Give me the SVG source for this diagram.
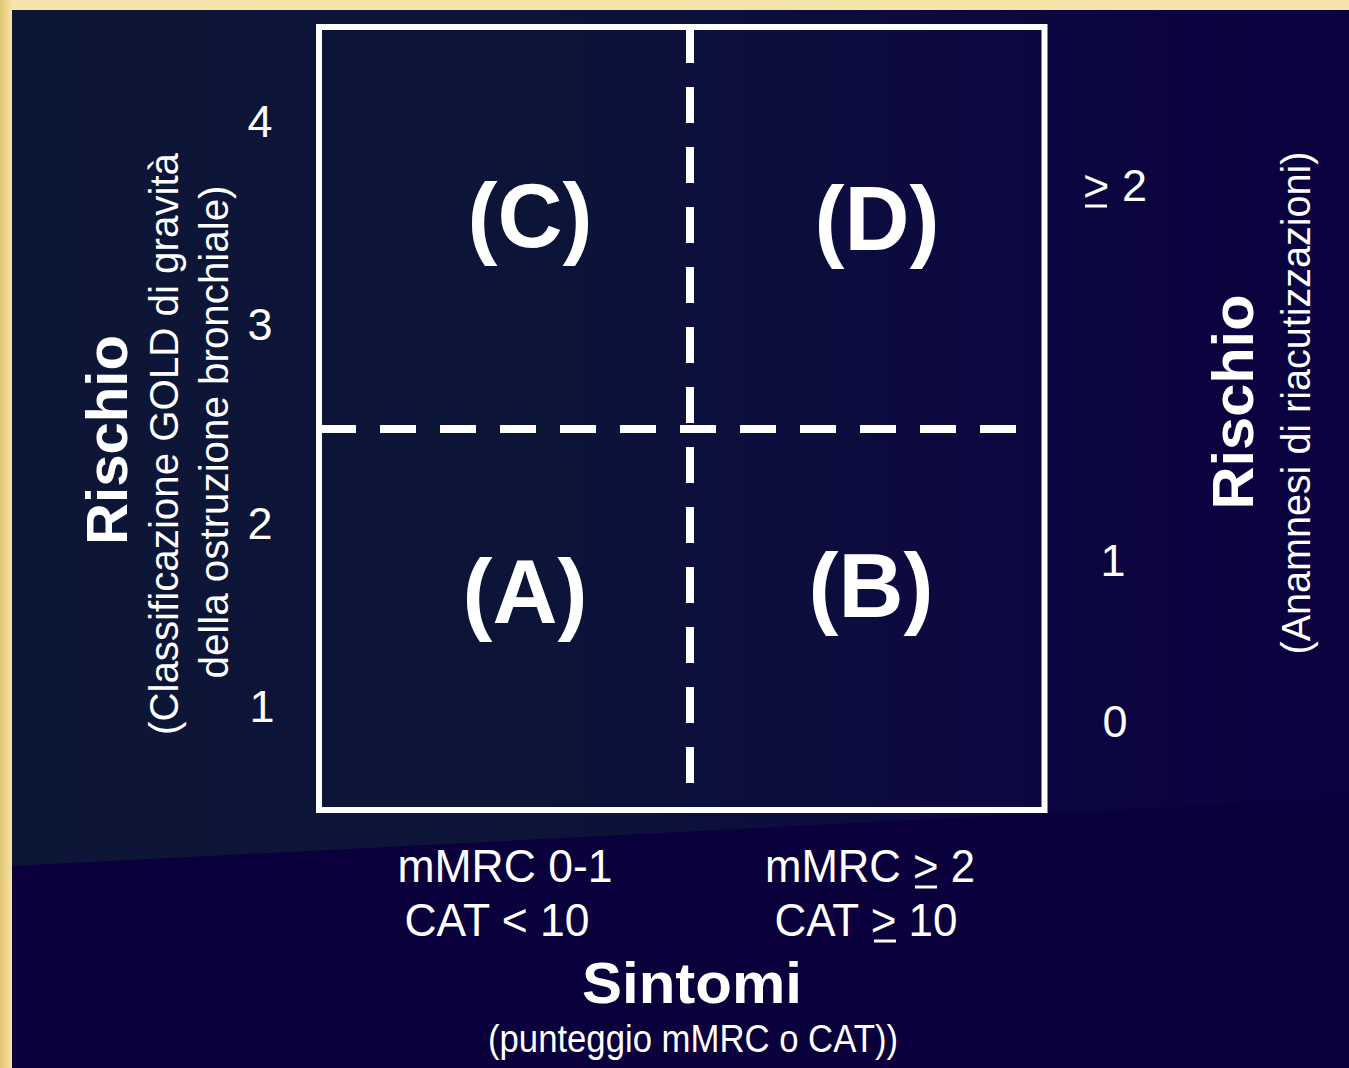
<svg xmlns="http://www.w3.org/2000/svg" width="1349" height="1068" viewBox="0 0 1349 1068">
  <defs>
    <linearGradient id="frame" x1="0" y1="0" x2="0" y2="1">
      <stop offset="0" stop-color="#f7e4ab"/>
      <stop offset="1" stop-color="#f2dc9c"/>
    </linearGradient>
    <linearGradient id="leftEdge" x1="0" y1="0" x2="1" y2="0">
      <stop offset="0" stop-color="#e3c674"/>
      <stop offset="1" stop-color="#f6e2a6"/>
    </linearGradient>
    <linearGradient id="panel" gradientUnits="userSpaceOnUse" x1="12" y1="0" x2="1349" y2="0">
      <stop offset="0" stop-color="#0c1636"/>
      <stop offset="0.37" stop-color="#0c1538"/>
      <stop offset="0.55" stop-color="#0c0f3d"/>
      <stop offset="0.78" stop-color="#0c0640"/>
      <stop offset="1" stop-color="#0a013e"/>
    </linearGradient>
    <style>
      .t { font-family: "Liberation Sans", Arial, sans-serif; fill: #ffffff; }
      .num { font-size: 45px; text-anchor: middle; }
      .quad { font-size: 90px; font-weight: bold; text-anchor: middle; }
      .axis { font-size: 58px; font-weight: bold; text-anchor: middle; }
      .sub { font-size: 40px; text-anchor: middle; }
      .score { font-size: 46px; text-anchor: middle; }
      .ul { stroke: #ffffff; stroke-width: 3; }
      .divider { stroke: #ffffff; stroke-width: 8; stroke-dasharray: 36 24; fill: none; }
    </style>
  </defs>

  <!-- slide frame and dark panel -->
  <rect x="0" y="0" width="1349" height="1068" fill="url(#frame)"/>
  <rect x="0" y="0" width="12" height="1068" fill="url(#leftEdge)"/>
  <rect x="12" y="10" width="1337" height="1058" fill="url(#panel)"/>
  <polygon points="12,866 1349,798 1349,1068 12,1068" fill="#09003c"/>

  <!-- outer frame of the risk matrix -->
  <g id="matrix">
    <rect x="319" y="27" width="725.5" height="783" fill="none" stroke="#ffffff" stroke-width="6"/>
  </g>

  <!-- dashed quadrant dividers -->
  <g id="connectors">
    <line class="divider" x1="690" y1="27" x2="690" y2="787"/>
    <line class="divider" x1="320" y1="429" x2="1018" y2="429"/>
  </g>

  <!-- quadrant labels -->
  <g id="quadrant-C"><text class="t quad" x="530" y="247">(C)</text></g>
  <g id="quadrant-D"><text class="t quad" x="877" y="250">(D)</text></g>
  <g id="quadrant-A"><text class="t quad" x="525" y="623">(A)</text></g>
  <g id="quadrant-B"><text class="t quad" x="871" y="617">(B)</text></g>

  <!-- left scale: GOLD grade -->
  <g id="scale-gold">
    <text class="t num" x="260" y="137">4</text>
    <text class="t num" x="260" y="340">3</text>
    <text class="t num" x="260" y="539">2</text>
    <text class="t num" x="262" y="722">1</text>
  </g>

  <!-- right scale: exacerbations (underlined ">" reads as "at least") -->
  <g id="scale-exacerbations">
    <text class="t num" x="1115" y="201">&gt; 2</text>
    <line class="ul" x1="1085" y1="206" x2="1107" y2="206"/>
    <text class="t num" x="1113" y="576">1</text>
    <text class="t num" x="1115" y="737">0</text>
  </g>

  <!-- left axis title -->
  <g id="axis-left">
    <text class="t axis" transform="translate(127,440) rotate(-90)" textLength="210" lengthAdjust="spacingAndGlyphs">Rischio</text>
    <text class="t sub" transform="translate(178,444) rotate(-90)" textLength="582" lengthAdjust="spacingAndGlyphs">(Classificazione GOLD di gravità</text>
    <text class="t sub" transform="translate(228,432) rotate(-90)" textLength="493" lengthAdjust="spacingAndGlyphs">della ostruzione bronchiale)</text>
  </g>

  <!-- right axis title -->
  <g id="axis-right">
    <text class="t axis" transform="translate(1253,402) rotate(-90)" textLength="215" lengthAdjust="spacingAndGlyphs">Rischio</text>
    <text class="t sub" transform="translate(1310,403) rotate(-90)" textLength="503" lengthAdjust="spacingAndGlyphs">(Anamnesi di riacutizzazioni)</text>
  </g>

  <!-- bottom scale: symptom scores -->
  <g id="scale-symptoms-low">
    <text class="t score" x="505" y="882" textLength="215" lengthAdjust="spacingAndGlyphs">mMRC 0-1</text>
    <text class="t score" x="497" y="936" textLength="185" lengthAdjust="spacingAndGlyphs">CAT &lt; 10</text>
  </g>
  <g id="scale-symptoms-high">
    <text class="t score" x="870" y="882" textLength="210" lengthAdjust="spacingAndGlyphs">mMRC &gt; 2</text>
    <line class="ul" x1="915" y1="887" x2="937" y2="887"/>
    <text class="t score" x="866" y="936" textLength="183" lengthAdjust="spacingAndGlyphs">CAT &gt; 10</text>
    <line class="ul" x1="874" y1="941" x2="896" y2="941"/>
  </g>

  <!-- bottom axis title -->
  <g id="axis-bottom">
    <text class="t axis" x="692" y="1003" textLength="220" lengthAdjust="spacingAndGlyphs">Sintomi</text>
    <text class="t" x="693" y="1052" font-size="38" text-anchor="middle" textLength="410" lengthAdjust="spacingAndGlyphs">(punteggio mMRC o CAT))</text>
  </g>
</svg>
